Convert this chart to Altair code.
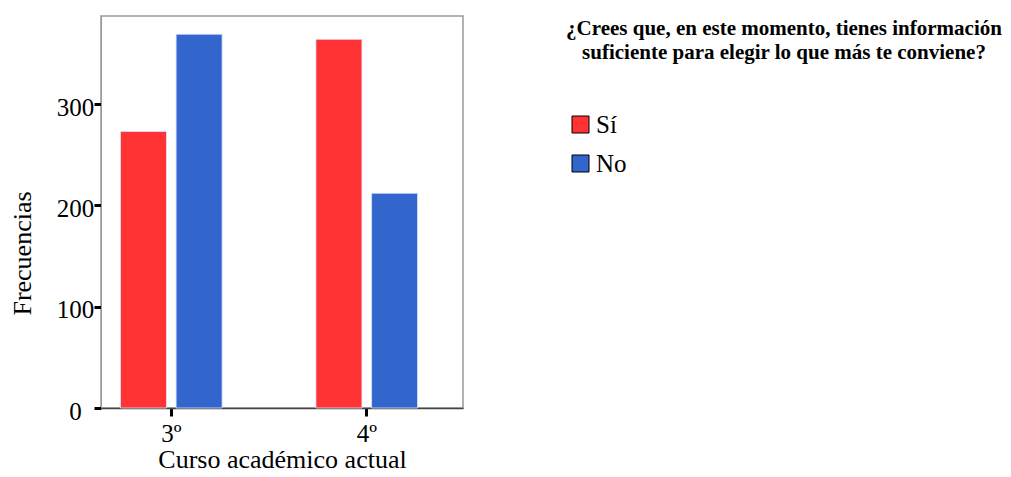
import altair as alt
import pandas as pd

cursos = ["3º", "3º", "4º", "4º"]
respuestas = ["Sí", "No", "Sí", "No"]
frecuencias = [273, 369, 364, 212]

categorias_respuesta = ["Sí", "No"]
colores = ["#FF3333", "#3366CC"]
ticks_y = [0, 100, 200, 300]

titulo = ["¿Crees que, en este momento, tienes información",
          "suficiente para elegir lo que más te conviene?"]

df = pd.DataFrame({"Curso": cursos, "Respuesta": respuestas, "Frecuencia": frecuencias})

FONT = "Liberation Serif"

chart = alt.Chart(df).mark_bar(stroke="#dde4ff", strokeWidth=0.8).encode(
    x=alt.X("Curso:N", title="Curso académico actual",
            scale=alt.Scale(paddingInner=0.48, paddingOuter=0.166, align=0.3),
            axis=alt.Axis(labelAngle=0, domain=True, domainColor="#444444", domainWidth=1.5,
                          tickColor="black", tickWidth=3, tickSize=8,
                          labelFont=FONT, labelFontSize=25, labelColor="black", labelPadding=5,
                          titleFont=FONT, titleFontSize=26, titleFontWeight="normal",
                          titleColor="black", titlePadding=0)),
    xOffset=alt.XOffset("Respuesta:N", sort=categorias_respuesta,
                        scale=alt.Scale(paddingInner=0.173, paddingOuter=0)),
    y=alt.Y("Frecuencia:Q", title="Frecuencias",
            scale=alt.Scale(domain=[0, 387], nice=False),
            axis=alt.Axis(values=ticks_y, grid=False, domain=True, domainColor="#999999",
                          tickColor="black", tickWidth=3, tickSize=7,
                          labelFont=FONT, labelFontSize=25, labelColor="black",
                          labelAlign="center", labelPadding=19, labelOffset=3,
                          titleFont=FONT, titleFontSize=26, titleFontWeight="normal",
                          titleColor="black", titleAngle=270, titleAlign="center",
                          titleBaseline="middle", titleX=-79, titleY=237)),
    color=alt.Color("Respuesta:N", sort=categorias_respuesta,
                    scale=alt.Scale(domain=categorias_respuesta, range=colores),
                    legend=alt.Legend(title=None, orient="none",
                                      legendX=467, legendY=96,
                                      labelFont=FONT, labelFontSize=25, labelColor="black",
                                      labelOffset=3, symbolType="square", symbolSize=289,
                                      symbolStrokeColor="black", symbolStrokeWidth=1,
                                      symbolOpacity=1, rowPadding=13, padding=0)),
).properties(
    width=362, height=392,
    autosize=alt.AutoSizeParams(type="none"),
    padding={"left": 93, "top": 8, "right": 540, "bottom": 61},
    title=alt.TitleParams(text=titulo, anchor="middle", frame="group", orient="top",
                          dx=502, dy=51, font=FONT, fontSize=21, fontWeight="bold",
                          color="black", lineHeight=24, align="center", limit=1000),
).configure_view(
    stroke="#999999", strokeWidth=1.5
)

chart.save("out.html", embed_options={"renderer": "svg", "actions": False})
